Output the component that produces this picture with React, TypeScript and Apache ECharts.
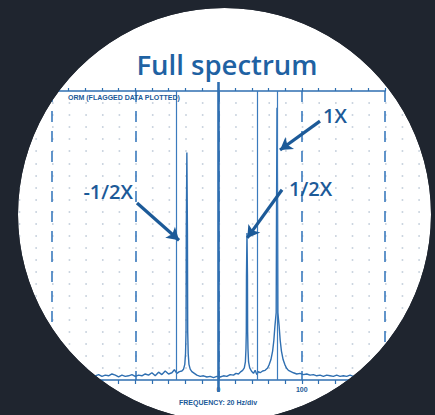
import React, { useEffect, useRef } from "react";
import * as echarts from "echarts";

// ---- data ----
const FREQ_MIN = -200;
const FREQ_MAX = 200;
const FREQ_DIV = 20; // Hz per division
const AMP_MAX = 24;
const AXIS_LABELS_SHOWN = [0, 100];

// spectrum: [frequency (Hz), amplitude (divisions)]
const spectrumPoints: [number, number][] = [
  [-200, 0.3], [-196, 0.25], [-192, 0.35], [-188, 0.3], [-184, 0.2], [-180, 0.3],
  [-176, 0.4], [-172, 0.3], [-168, 0.25], [-164, 0.35], [-160, 0.3], [-156, 0.4],
  [-152, 0.3], [-148, 0.35], [-144, 0.45], [-140, 0.3], [-136, 0.4], [-132, 0.35],
  [-128, 0.5], [-124, 0.4], [-120, 0.25], [-116, 0.4], [-112, 0.3], [-108, 0.35],
  [-104, 0.45], [-100, 0.3], [-96, 0.4], [-92, 0.35], [-88, 0.5], [-84, 0.4],
  [-80, 0.6], [-76, 0.35], [-72, 0.65], [-68, 0.45], [-64, 0.75], [-60, 0.5],
  [-56, 0.6], [-53, 0.85], [-50, 0.55], [-47, 0.7], [-44, 0.75], [-42, 0.9],
  [-40.5, 1.3], [-39.6, 2.2], [-39.0, 4.0], [-38.7, 12.2], [-38, 18.9], [-37.3, 12.2],
  [-37.0, 4.0], [-36.4, 2.2], [-35.5, 1.3], [-34, 0.9], [-32, 0.7], [-29, 0.55],
  [-26, 0.4], [-22, 0.3], [-18, 0.35], [-14, 0.25], [-10, 0.3], [-6, 0.2],
  [-2, 0.3], [2, 0.25], [6, 0.35], [10, 0.3], [14, 0.45], [18, 0.4],
  [21, 0.55], [24, 0.5], [27, 0.7], [29, 0.8], [31, 1.0], [32.3, 1.5],
  [33.0, 2.6], [33.4, 4.0], [33.6, 8.6], [34.2, 12.2], [34.8, 8.6], [35.0, 4.0],
  [35.4, 2.6], [36.1, 1.5], [37.5, 1.0], [39.5, 0.75], [42, 0.55], [44, 0.8],
  [46, 0.45], [48, 0.7], [50, 0.6], [53, 0.75], [56, 0.8], [59, 1.0],
  [61, 1.3], [63, 1.7], [65, 2.4], [66.5, 3.3], [67.8, 4.5], [69.3, 5.6],
  [69.7, 14], [70.3, 22.6], [70.9, 14], [71.3, 5.6], [72.8, 4.5], [74.1, 3.3],
  [75.6, 2.4], [77.6, 1.7], [79.6, 1.3], [81.6, 1.0], [84, 0.8], [87, 0.7],
  [90, 0.6], [94, 0.5], [98, 0.55], [102, 0.45], [106, 0.5], [110, 0.4],
  [114, 0.45], [118, 0.35], [122, 0.4], [126, 0.3], [130, 0.4], [134, 0.35],
  [138, 0.3], [142, 0.4], [146, 0.3], [150, 0.35], [154, 0.3], [158, 0.4],
  [162, 0.3], [166, 0.35], [170, 0.25], [174, 0.35], [178, 0.3], [182, 0.4],
  [186, 0.3], [190, 0.35], [194, 0.3], [198, 0.35], [200, 0.3],
];

// cursor / marker lines (Hz)
const markerFreqs = [-51, 47, 70.3];

// annotation arrows: [fromFreq, fromAmp, toFreq, toAmp]
const arrowDefs: [number, number, number, number][] = [
  [121.9, 21.5, 73.9, 19.1], // 1X
  [76.3, 15.8, 34.6, 11.8], // 1/2X
  [-97.9, 14.7, -47.4, 11.6], // -1/2X
];

const TITLE = "Full spectrum";
const TOP_NOTE = "ORM (FLAGGED DATA PLOTTED)";
const X_NAME = "FREQUENCY: 20 Hz/div";

// ---- styles ----
const BG = "#1f252f";
const LINE_BLUE = "#2f6fb1";
const MARK_BLUE = "#3b7bbd";
const TEXT_BLUE = "#1c5a98";
const DOT = "#bcc8d6";

export default function App() {
  const ref = useRef<HTMLDivElement>(null);

  useEffect(() => {
    if (!ref.current) return;
    const chart = echarts.init(ref.current, undefined, { renderer: "svg" });

    const option: any = {
      animation: false,
      backgroundColor: BG,
      grid: [
        { left: 52, right: 50, top: 91, bottom: 35 },
        { left: 2.05, right: 0.05, top: 91, bottom: 35 },
      ],
      xAxis: [
        {
          gridIndex: 0,
          type: "value",
          min: FREQ_MIN,
          max: FREQ_MAX,
          interval: FREQ_DIV,
          position: "bottom",
          axisLine: { show: true, onZero: false, lineStyle: { color: LINE_BLUE, width: 1.6 } },
          axisTick: { show: true, length: 4, lineStyle: { color: LINE_BLUE, width: 1.2 } },
          axisLabel: {
            show: true,
            margin: 6,
            fontSize: 7,
            fontWeight: "bold",
            color: TEXT_BLUE,
            fontFamily: "Liberation Sans",
            formatter: (v: number) => (AXIS_LABELS_SHOWN.indexOf(v) >= 0 ? String(v) : ""),
          },
          splitLine: { show: false },
        },
        {
          gridIndex: 0,
          type: "value",
          min: FREQ_MIN,
          max: FREQ_MAX,
          interval: FREQ_DIV,
          position: "top",
          axisLine: { show: true, onZero: false, lineStyle: { color: LINE_BLUE, width: 1.6 } },
          axisTick: { show: true, length: 3, lineStyle: { color: LINE_BLUE, width: 1.2 } },
          axisLabel: { show: false },
          splitLine: { show: false },
        },
        {
          gridIndex: 0,
          type: "value",
          min: FREQ_MIN,
          max: FREQ_MAX,
          interval: 100,
          position: "bottom",
          axisLine: { show: false },
          axisTick: { show: false },
          axisLabel: { show: false },
          splitLine: { show: true, lineStyle: { type: [11, 9], color: MARK_BLUE, width: 1.6 } },
        },
        {
          gridIndex: 1,
          type: "value",
          min: -260,
          max: 260,
          show: false,
        },
      ],
      yAxis: [
        {
          gridIndex: 0,
          type: "value",
          min: 0,
          max: AMP_MAX,
          show: false,
        },
        {
          gridIndex: 1,
          type: "value",
          min: 0,
          max: AMP_MAX,
          interval: 1,
          axisLine: { show: false },
          axisTick: { show: false },
          axisLabel: { show: false },
          splitLine: {
            show: true,
            showMinLine: false,
            showMaxLine: false,
            lineStyle: { type: [1.6, 15.05], color: DOT, width: 1.6 },
          },
        },
      ],
      series: [
        {
          type: "line",
          xAxisIndex: 0,
          yAxisIndex: 0,
          data: spectrumPoints,
          showSymbol: false,
          symbol: "none",
          clip: false,
          lineStyle: { color: LINE_BLUE, width: 1.4 },
          z: 3,
          markLine: {
            silent: true,
            symbol: ["none", "none"],
            label: { show: false },
            lineStyle: { color: MARK_BLUE, width: 1.2, type: "solid" },
            data: [
              ...markerFreqs.map((f) => ({ xAxis: f })),
              ...arrowDefs.map(([x1, y1, x2, y2]) => [
                {
                  coord: [x1, y1],
                  symbol: "none",
                  lineStyle: { color: TEXT_BLUE, width: 3.2, type: "solid" },
                },
                { coord: [x2, y2], symbol: "arrow", symbolSize: [11, 12] },
              ]),
            ],
          },
        },
      ],
    };
    chart.setOption(option);

    const x0 = chart.convertToPixel({ xAxisIndex: 0 }, 0) as number;
    const yTop = chart.convertToPixel({ yAxisIndex: 0 }, AMP_MAX + 0.75) as number;
    const yBot = chart.convertToPixel({ yAxisIndex: 0 }, -1) as number;

    const txt = (
      text: string,
      x: number,
      y: number,
      size: number,
      weight: string | number,
      align: string,
      family: string,
      fill: string
    ) => ({
      type: "text",
      z: 60,
      style: {
        text,
        x,
        y,
        fill,
        fontSize: size,
        fontWeight: weight,
        fontFamily: family,
        align,
        textAlign: align,
        verticalAlign: "middle",
        textVerticalAlign: "middle",
      },
    });

    chart.setOption({
      graphic: {
        elements: [
          {
            type: "circle",
            z: -10,
            shape: { cx: 224.5, cy: 214.5, r: 206.5 },
            style: { fill: "#ffffff" },
          },
          {
            type: "line",
            z: 10,
            shape: { x1: x0, y1: yTop, x2: x0, y2: yBot },
            style: { stroke: LINE_BLUE, lineWidth: 2.6 },
          },
          {
            type: "ring",
            z: 50,
            shape: { cx: 224.5, cy: 214.5, r: 700, r0: 206.5 },
            style: { fill: BG },
          },
          txt(TITLE, 227, 64, 27.5, 600, "center", "Open Sans", "#1f62a3"),
          txt("1X", 323, 115, 20, 600, "left", "Open Sans", TEXT_BLUE),
          txt("1/2X", 289, 188, 20, 600, "left", "Open Sans", TEXT_BLUE),
          txt("-1/2X", 133, 191, 20, 600, "right", "Open Sans", TEXT_BLUE),
          txt(TOP_NOTE, 68, 97, 7, "bold", "left", "Liberation Sans", TEXT_BLUE),
          txt(X_NAME, 218, 402, 7, "bold", "center", "Liberation Sans", TEXT_BLUE),
        ],
      },
    });

    return () => chart.dispose();
  }, []);

  return (
    <div
      ref={ref}
      style={{ position: "fixed", left: 0, top: 0, width: 435, height: 415 }}
    />
  );
}
